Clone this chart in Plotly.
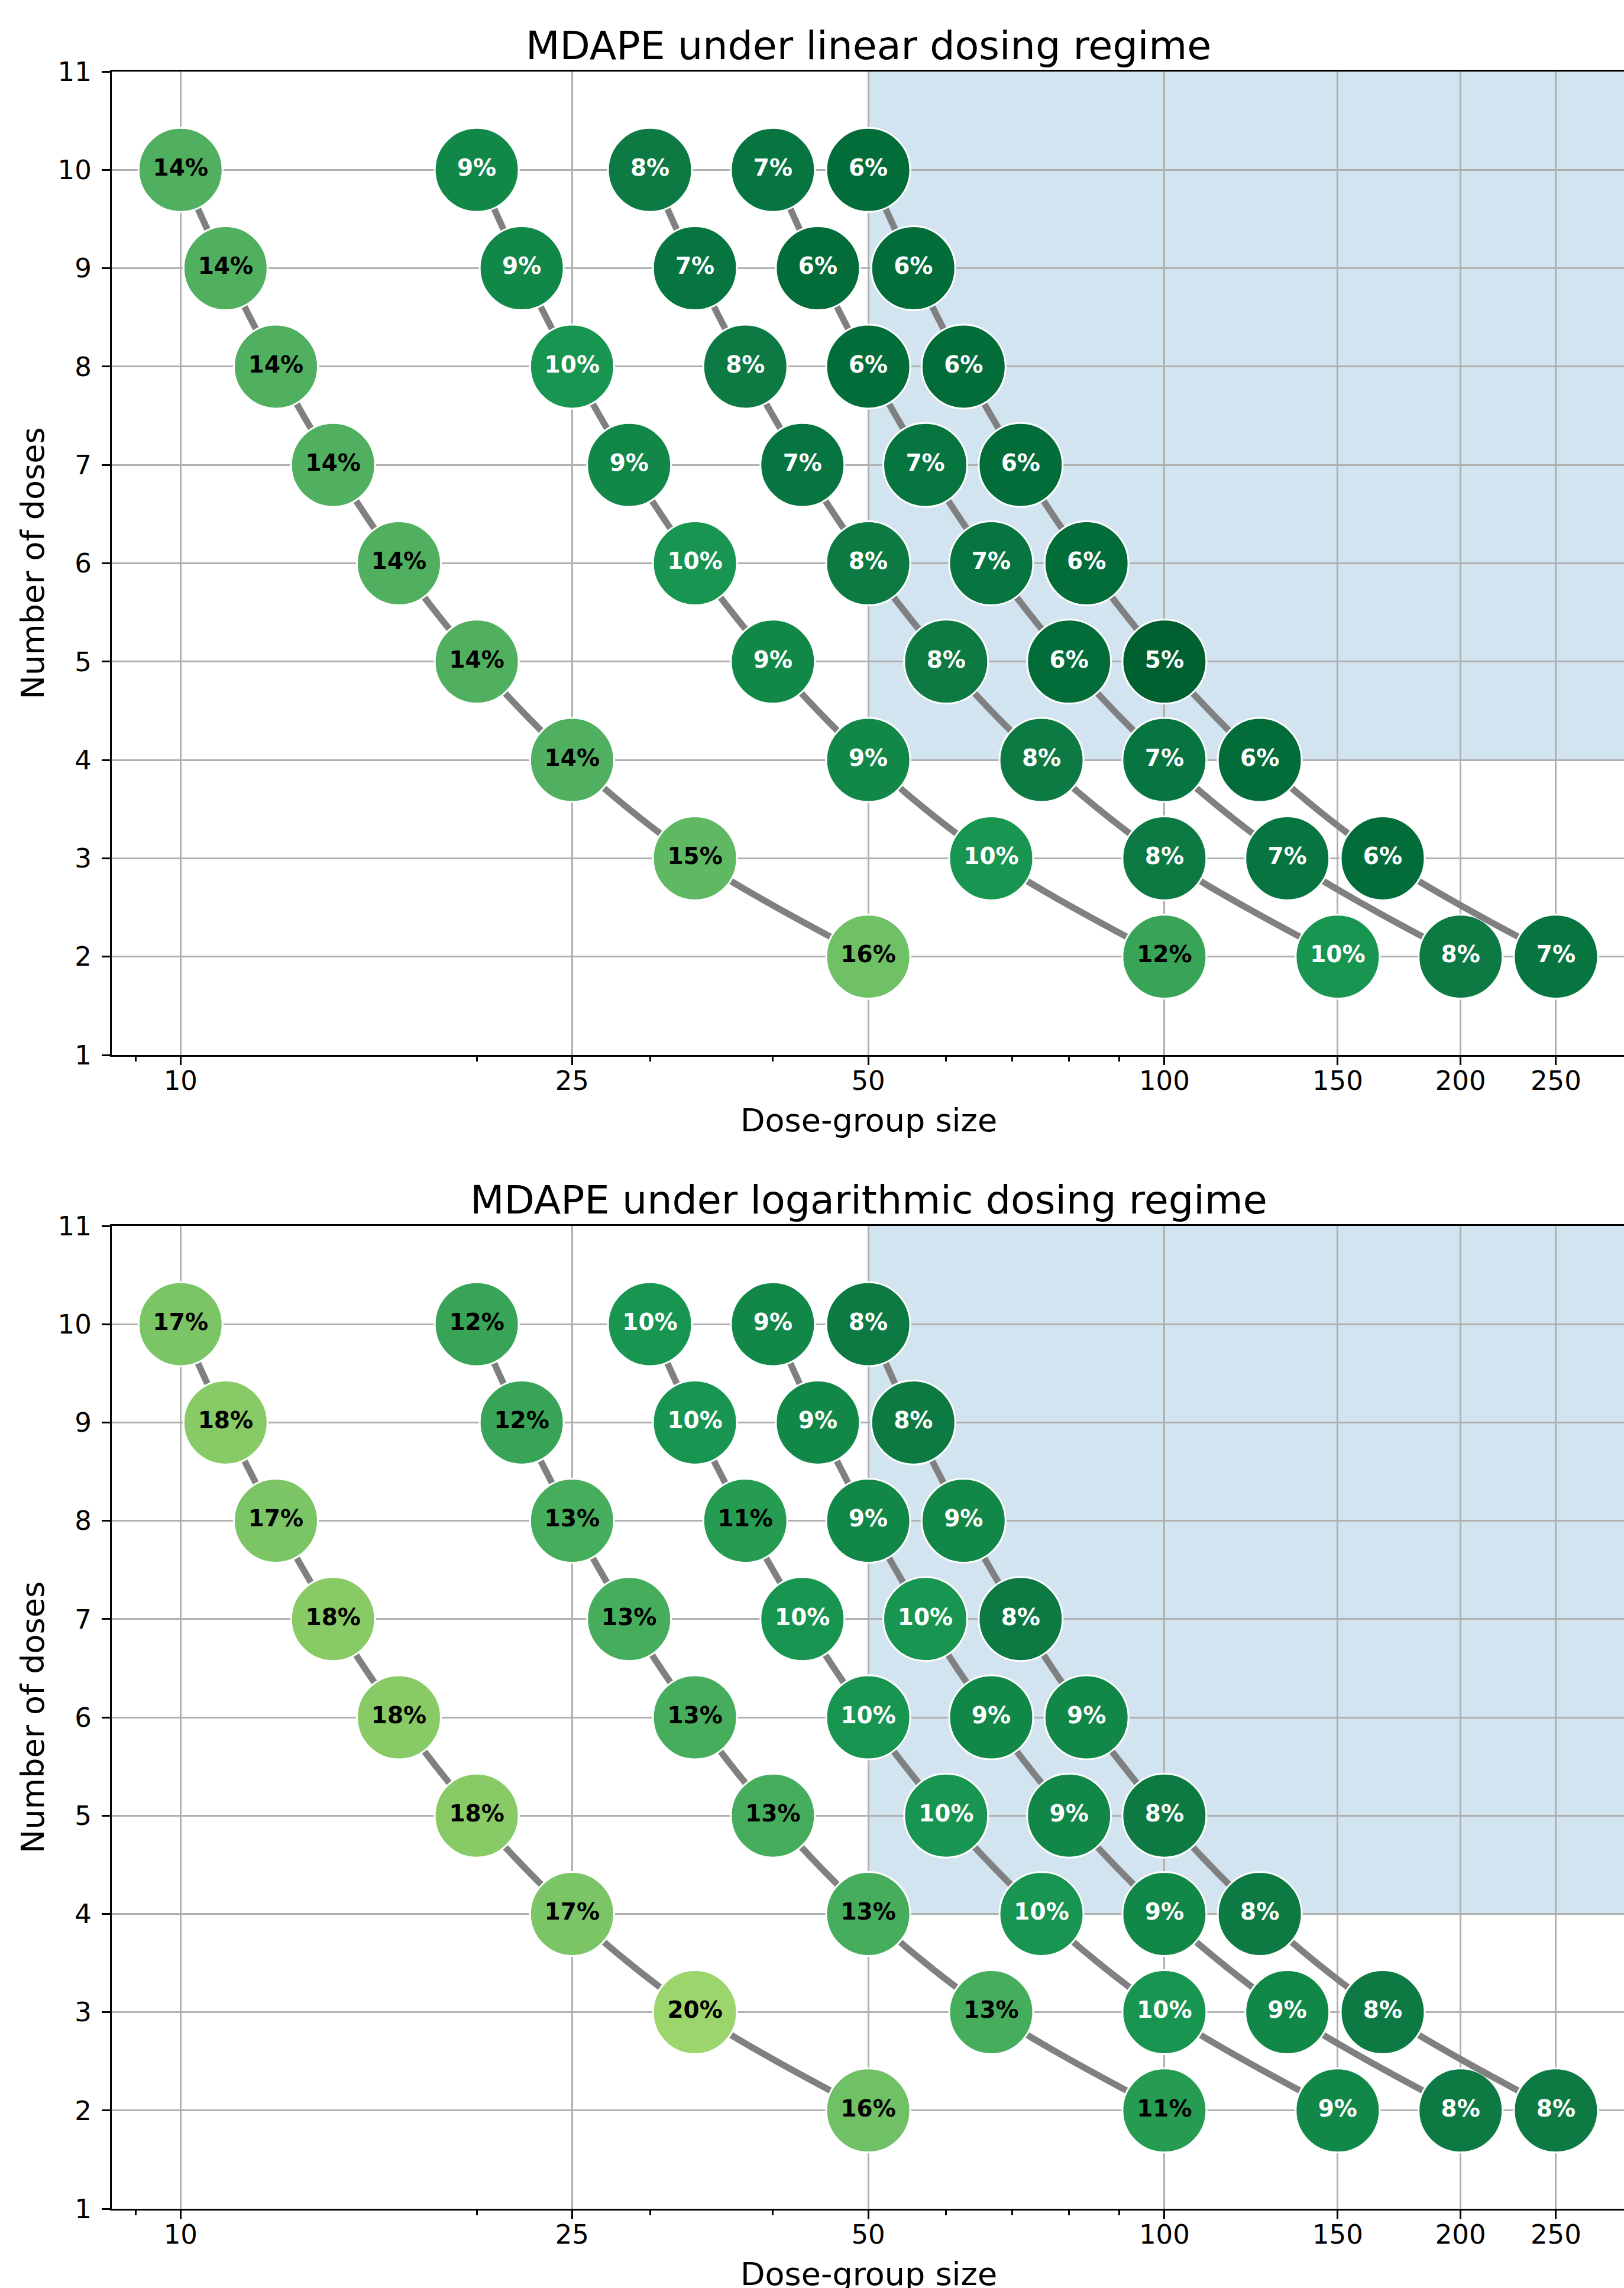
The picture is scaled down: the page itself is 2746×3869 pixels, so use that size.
import plotly.graph_objects as go

# ---------------- data ----------------
doses = [10, 9, 8, 7, 6, 5, 4, 3, 2]

# dose-group sizes for each total sample size (N = 100 ... 500)
group_size_n100 = [10, 11.11, 12.5, 14.29, 16.67, 20, 25, 33.33, 50]
group_size_n200 = [20, 22.22, 25, 28.57, 33.33, 40, 50, 66.67, 100]
group_size_n300 = [30, 33.33, 37.5, 42.86, 50, 60, 75, 100, 150]
group_size_n400 = [40, 44.44, 50, 57.14, 66.67, 80, 100, 133.33, 200]
group_size_n500 = [50, 55.56, 62.5, 71.43, 83.33, 100, 125, 166.67, 250]

# MDAPE (%) under linear dosing regime
mdape_lin_n100 = [14, 14, 14, 14, 14, 14, 14, 15, 16]
mdape_lin_n200 = [9, 9, 10, 9, 10, 9, 9, 10, 12]
mdape_lin_n300 = [8, 7, 8, 7, 8, 8, 8, 8, 10]
mdape_lin_n400 = [7, 6, 6, 7, 7, 6, 7, 7, 8]
mdape_lin_n500 = [6, 6, 6, 6, 6, 5, 6, 6, 7]

# MDAPE (%) under logarithmic dosing regime
mdape_log_n100 = [17, 18, 17, 18, 18, 18, 17, 20, 16]
mdape_log_n200 = [12, 12, 13, 13, 13, 13, 13, 13, 11]
mdape_log_n300 = [10, 10, 11, 10, 10, 10, 10, 10, 9]
mdape_log_n400 = [9, 9, 9, 10, 9, 9, 9, 9, 8]
mdape_log_n500 = [8, 8, 9, 8, 9, 8, 8, 8, 8]

x_tick_vals = [10, 25, 50, 100, 150, 200, 250]
x_tick_text = ["10", "25", "50", "100", "150", "200", "250"]
x_minor_vals = [9, 20, 30, 40, 60, 70, 80, 90]
y_tick_vals = [1, 2, 3, 4, 5, 6, 7, 8, 9, 10, 11]

# shaded target region: group size >= 50 and doses >= 4
region_min_group = 50
region_min_doses = 4

titles = ["MDAPE under linear dosing regime", "MDAPE under logarithmic dosing regime"]

# ---------------- style ----------------
W, H = 2746, 3869
ML, MR, MT, MB = 189, 0, 121, 134
PW, PH = W - ML - MR, H - MT - MB
FONT = "DejaVu Sans"

def py(p):
    return (H - MB - p) / PH

def px_(p):
    return (p - ML) / PW

cs_anchor_vals = [5, 6, 7, 8, 9, 10, 11, 12, 13, 14, 15, 16, 17, 18, 20]
cs_anchor_cols = ["#00602f", "#036d3a", "#077540", "#0c7a42", "#128848", "#189550",
                  "#259c52", "#38a457", "#46ad5d", "#50b060", "#5eb962", "#70c065",
                  "#7cc567", "#88cb66", "#9dd56d"]
CMIN, CMAX = 5, 20
colorscale = [[(v - CMIN) / (CMAX - CMIN), c] for v, c in zip(cs_anchor_vals, cs_anchor_cols)]

groups = [group_size_n100, group_size_n200, group_size_n300, group_size_n400, group_size_n500]
panels = [
    [mdape_lin_n100, mdape_lin_n200, mdape_lin_n300, mdape_lin_n400, mdape_lin_n500],
    [mdape_log_n100, mdape_log_n200, mdape_log_n300, mdape_log_n400, mdape_log_n500],
]

fig = go.Figure()
for pi, series in enumerate(panels):
    xa = "x" if pi == 0 else "x2"
    ya = "y" if pi == 0 else "y2"
    for gs, vals in zip(groups, series):
        fig.add_trace(go.Scatter(
            x=gs, y=doses, xaxis=xa, yaxis=ya,
            mode="lines+markers+text",
            line=dict(color="#808080", width=11, shape="spline"),
            marker=dict(size=142, color=vals, colorscale=colorscale, cmin=CMIN, cmax=CMAX,
                        line=dict(color="white", width=3), opacity=1),
            text=[f"{v}%" for v in vals],
            textposition="middle center",
            textfont=dict(family=FONT, size=39, weight="bold",
                          color=["white" if v <= 10 else "black" for v in vals]),
            showlegend=False, hoverinfo="skip",
        ))

top_dom = [py(1784), 1]
bot_dom = [0, py(2073)]

def xaxis_cfg(anchor):
    return dict(
        type="log", range=[0.9301, 0.9301 + PW / 1663.6], anchor=anchor,
        tickmode="array", tickvals=x_tick_vals, ticktext=x_tick_text,
        ticks="outside", ticklen=14, tickwidth=3, tickcolor="black",
        showline=True, linecolor="black", linewidth=3.3, mirror=True,
        showgrid=True, gridcolor="#b0b0b0", gridwidth=3, zeroline=False,
        tickfont=dict(family=FONT, size=45, color="black"),
        ticklabelstandoff=-12,
        minor=dict(tickmode="array", tickvals=x_minor_vals, ticks="outside",
                   ticklen=8, tickwidth=2.5, tickcolor="black", showgrid=False),
        automargin=False, fixedrange=True,
    )

def yaxis_cfg(anchor, dom):
    return dict(
        range=[1, 11], domain=dom, anchor=anchor,
        tickmode="array", tickvals=y_tick_vals,
        ticks="outside", ticklen=14, tickwidth=3, tickcolor="black",
        showline=True, linecolor="black", linewidth=3.3, mirror=False,
        showgrid=True, gridcolor="#b0b0b0", gridwidth=3, zeroline=False,
        tickfont=dict(family=FONT, size=45, color="black"),
        ticklabelstandoff=8,
        automargin=False, fixedrange=True,
    )

shapes = []
for xr, yr in [("x", "y"), ("x2", "y2")]:
    shapes.append(dict(type="rect", xref=xr, yref=yr, x0=region_min_group, x1=1000,
                       y0=region_min_doses, y1=11, fillcolor="rgba(31,119,180,0.2)",
                       line=dict(width=0), layer="below"))

cx = px_((ML + 2748) / 2)
annotations = []
for title, ty in zip(titles, [77, 2029]):
    annotations.append(dict(text=title, xref="paper", yref="paper", x=cx, y=py(ty),
                            xanchor="center", yanchor="middle", showarrow=False,
                            font=dict(family=FONT, size=66.7, color="black")))
for ly in [1894, 3845]:
    annotations.append(dict(text="Dose-group size", xref="paper", yref="paper", x=cx, y=py(ly),
                            xanchor="center", yanchor="middle", showarrow=False,
                            font=dict(family=FONT, size=54, color="black")))
for ly in [952.5, 2904]:
    annotations.append(dict(text="Number of doses", xref="paper", yref="paper", x=px_(55), y=py(ly),
                            xanchor="center", yanchor="middle", showarrow=False, textangle=-90,
                            font=dict(family=FONT, size=54, color="black")))

fig.update_layout(
    template="none",
    width=W, height=H,
    margin=dict(l=ML, r=MR, t=MT, b=MB, pad=0),
    paper_bgcolor="white", plot_bgcolor="white",
    font=dict(family=FONT, color="black"),
    xaxis=xaxis_cfg("y"), yaxis=yaxis_cfg("x", top_dom),
    xaxis2=xaxis_cfg("y2"), yaxis2=yaxis_cfg("x2", bot_dom),
    shapes=shapes, annotations=annotations,
    showlegend=False,
)

fig.write_html("out.html", config={"displayModeBar": False},
               post_script="document.body.style.margin='0';")
